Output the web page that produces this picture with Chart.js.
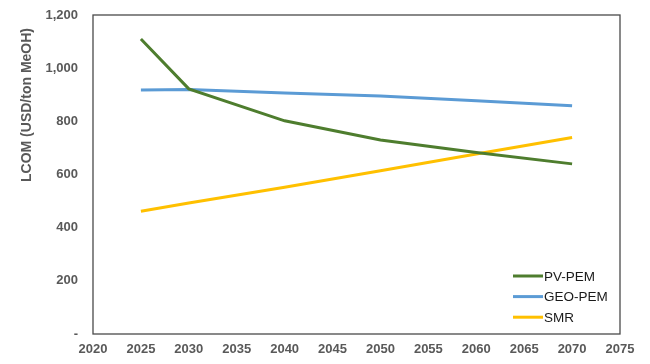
<!DOCTYPE html>
<html><head><meta charset="utf-8">
<script src="https://cdn.jsdelivr.net/npm/chart.js@4"></script>
<style>html,body{margin:0;padding:0;background:#fff}#w{width:650px;height:364px}</style>
</head><body><div id="w"><canvas id="c" width="650" height="364"></canvas></div>
<script>
const years = [2025, 2030, 2040, 2050, 2060, 2070];
const pvPem = [1110, 922, 802, 730, 683, 640];
const geoPem = [918, 920, 907, 895, 877, 859];
const smr = [462, 493, 552, 614, 677, 739];
const seriesNames = ['PV-PEM', 'GEO-PEM', 'SMR'];
const yTitle = 'LCOM (USD/ton MeOH)';
const xTicks = [2020, 2025, 2030, 2035, 2040, 2045, 2050, 2055, 2060, 2065, 2070, 2075];
const yTicks = [0, 200, 400, 600, 800, 1000, 1200];

const pts = arr => years.map((y, i) => ({x: y, y: arr[i]}));
const colors = ['#4E7D2E', '#5B9BD5', '#FFC000'];
const FONT = '"Liberation Sans", Arial, sans-serif';

const frame = {
  id: 'frame',
  afterDatasetsDraw(chart) {
    const a = chart.chartArea, ctx = chart.ctx;
    ctx.save();
    ctx.strokeStyle = '#4a4a4a';
    ctx.lineWidth = 1.3;
    ctx.strokeRect(a.left, a.top, a.right - a.left, a.bottom - a.top);
    // y-axis title, placed high as in the original
    ctx.save();
    ctx.translate(27, 105);
    ctx.rotate(-Math.PI / 2);
    ctx.font = 'bold 14px ' + FONT;
    ctx.fillStyle = '#595959';
    ctx.textAlign = 'center';
    ctx.textBaseline = 'middle';
    ctx.fillText(yTitle, 0, 0);
    ctx.restore();
    // legend
    ctx.font = '13.5px ' + FONT;
    ctx.textBaseline = 'middle';
    chart.data.datasets.forEach((ds, i) => {
      const y = 276 + i * 20.6;
      ctx.strokeStyle = ds.borderColor;
      ctx.lineWidth = 3;
      ctx.beginPath();
      ctx.moveTo(513, y); ctx.lineTo(543, y); ctx.stroke();
      ctx.fillStyle = '#1a1a1a';
      ctx.fillText(ds.label, 544, y + 1);
    });
    ctx.restore();
  }
};

new Chart(document.getElementById('c'), {
  type: 'line',
  data: {
    datasets: [
      {label: seriesNames[0], data: pts(pvPem), borderColor: colors[0]},
      {label: seriesNames[1], data: pts(geoPem), borderColor: colors[1]},
      {label: seriesNames[2], data: pts(smr), borderColor: colors[2]}
    ].map(d => Object.assign(d, {borderWidth: 3, pointRadius: 0, tension: 0, fill: false}))
  },
  options: {
    responsive: false,
    animation: false,
    layout: {padding: {top: 15, right: 30, left: 24, bottom: 0}},
    plugins: {legend: {display: false}, tooltip: {enabled: false}},
    scales: {
      x: {
        type: 'linear', min: 2020, max: 2075,
        afterBuildTicks: s => { s.ticks = xTicks.map(v => ({value: v})); },
        afterFit: s => { s.height = 30; s.paddingLeft = 0; s.paddingRight = 0; },
        grid: {display: false, drawTicks: false},
        border: {display: false},
        ticks: {padding: 8, color: '#595959', maxRotation: 0, autoSkip: false,
          font: {family: FONT, size: 13, weight: 'bold'},
          callback: v => String(v)}
      },
      y: {
        min: 0, max: 1200,
        afterBuildTicks: s => { s.ticks = yTicks.map(v => ({value: v})); },
        afterFit: s => { s.width = 69; s.paddingTop = 0; s.paddingBottom = 0; },
        grid: {display: false, drawTicks: false},
        border: {display: false},
        title: {display: false},
        ticks: {padding: 15, color: '#595959',
          font: {family: FONT, size: 13, weight: 'bold'},
          callback: v => v === 0 ? '-' : v.toLocaleString('en-US')}
      }
    }
  },
  plugins: [frame]
});
</script></body></html>
